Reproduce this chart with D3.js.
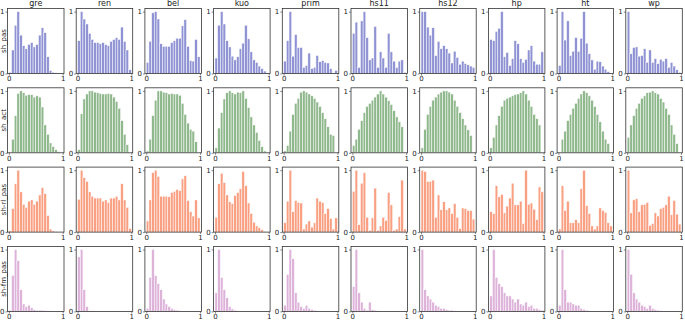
<!DOCTYPE html>
<html>
<head>
<meta charset="utf-8">
<script src="https://cdn.jsdelivr.net/npm/d3@7"></script>
<style>
  body { margin: 0; background: #fff; }
  svg text { font-family: "DejaVu Sans", sans-serif; fill: #222; }
</style>
</head>
<body>
<svg id="chart" width="685" height="322"></svg>
<script>
// columns (datasets) and rows (measures)
const categories = ['gre', 'ren', 'bel', 'kuo', 'prim', 'hs11', 'hs12', 'hp', 'ht', 'wp']
const rowLabels = ['sh_pas', 'sh_act', 'sh-rl_pas', 'sh-fm_pas']
const tickLabels = [0, 1]
const binCount = 20

// normalized histogram heights, 20 bins on [0,1], one list per category
const shPas = [
  [0.02, 0.38, 0.78, 1.0, 0.62, 0.45, 0.40, 0.47, 0.50, 0.43, 0.47, 0.62, 0.74, 0.66, 0.27, 0.05, 0.02, 0.01, 0, 0],
  [0.53, 1.0, 0.88, 0.80, 0.65, 0.55, 0.50, 0.50, 0.48, 0.50, 0.47, 0.45, 0.52, 0.55, 0.58, 0.55, 0.75, 0.52, 0.38, 0.06],
  [0.18, 0.52, 0.98, 1.0, 0.88, 0.48, 0.44, 0.44, 0.44, 0.50, 0.53, 0.57, 0.57, 0.77, 0.87, 0.44, 0.21, 0.20, 0.55, 0.27],
  [0.25, 0.78, 1.0, 0.80, 0.53, 0.43, 0.28, 0.22, 0.27, 0.40, 0.49, 0.78, 0.56, 0.35, 0.22, 0.18, 0.12, 0.08, 0.04, 0.01],
  [0.20, 0.53, 1.0, 0.28, 0.63, 0.42, 0.42, 0.10, 0.13, 0.33, 0.08, 0.10, 0.29, 0.19, 0.21, 0.18, 0.17, 0.08, 0.01, 0.05],
  [0.65, 0.83, 0.10, 0.85, 1.0, 0.58, 0.22, 0.25, 0.76, 0.10, 0.35, 0.25, 0.10, 0.65, 0.35, 0.20, 0.10, 0.20, 0.22, 0.02],
  [1.0, 1.0, 0.75, 0.62, 0.74, 0.29, 0.52, 0.40, 0.45, 0.40, 0.33, 0.17, 0.36, 0.26, 0.15, 0.20, 0.16, 0.14, 0.12, 0.10],
  [0.55, 0.53, 0.68, 0.73, 1.0, 0.27, 0.34, 0.13, 0.24, 0.53, 0.48, 0.24, 0.18, 0.23, 0.38, 0.45, 0.20, 0.15, 0.15, 0.35],
  [0.13, 1.0, 0.54, 0.85, 0.29, 0.36, 0.58, 0.36, 0.57, 1.0, 0.49, 0.32, 0.22, 0.07, 0.20, 0.19, 0.12, 0.07, 0.03, 0],
  [1.0, 0.32, 0.42, 0.43, 0.28, 0.29, 0.40, 0.18, 0.38, 0.18, 0.24, 0.16, 0.23, 0.20, 0.24, 0.10, 0.18, 0.12, 0.06, 0.02]
]
const shAct = [
  [0, 0.22, 0.60, 0.96, 1.0, 0.97, 0.93, 0.94, 0.94, 0.90, 0.92, 0.90, 0.74, 0.45, 0.30, 0.16, 0.10, 0.05, 0.02, 0],
  [0.05, 0.63, 0.87, 0.95, 1.0, 1.0, 0.98, 0.97, 0.96, 0.95, 0.95, 0.96, 0.95, 0.90, 0.83, 0.72, 0.52, 0.30, 0.13, 0],
  [0.03, 0.22, 0.60, 0.85, 1.0, 1.0, 0.98, 0.97, 0.95, 0.96, 0.95, 0.95, 0.93, 0.80, 0.62, 0.48, 0.38, 0.35, 0.18, 0],
  [0.08, 0.40, 0.65, 0.87, 0.97, 1.0, 0.97, 0.95, 0.98, 0.97, 1.0, 0.88, 0.73, 0.58, 0.45, 0.33, 0.20, 0.10, 0.03, 0],
  [0.03, 0.12, 0.35, 0.62, 0.80, 0.88, 0.98, 1.0, 0.98, 0.95, 0.92, 0.88, 0.82, 0.75, 0.65, 0.55, 0.42, 0.30, 0.28, 0],
  [0.12, 0.22, 0.38, 0.52, 0.65, 0.75, 0.80, 0.85, 0.90, 0.95, 1.0, 0.95, 0.90, 0.84, 0.78, 0.68, 0.58, 0.50, 0.42, 0],
  [0.08, 0.38, 0.62, 0.75, 0.85, 0.90, 0.95, 0.98, 1.0, 1.0, 0.98, 0.95, 0.85, 0.75, 0.65, 0.55, 0.45, 0.37, 0.28, 0],
  [0.08, 0.25, 0.45, 0.60, 0.75, 0.85, 0.88, 0.90, 0.92, 0.94, 0.95, 0.97, 1.0, 0.95, 0.85, 0.75, 0.62, 0.55, 0.45, 0],
  [0, 0.22, 0.35, 0.52, 0.62, 0.72, 0.80, 0.88, 0.95, 1.0, 0.97, 0.92, 0.85, 0.75, 0.62, 0.50, 0.35, 0.22, 0.15, 0],
  [0.25, 0.45, 0.60, 0.72, 0.80, 0.88, 0.92, 0.97, 0.98, 1.0, 0.97, 0.95, 0.88, 0.82, 0.72, 0.62, 0.45, 0.30, 0.15, 0]
]
const shRlPas = [
  [0.02, 0.38, 0.78, 1.0, 0.65, 0.45, 0.40, 0.50, 0.52, 0.45, 0.50, 0.60, 0.72, 0.62, 0.27, 0.05, 0.02, 0.01, 0, 0],
  [0.53, 1.0, 0.88, 0.82, 0.65, 0.58, 0.55, 0.55, 0.55, 0.50, 0.52, 0.48, 0.55, 0.55, 0.58, 0.52, 0.78, 0.52, 0.40, 0.06],
  [0.18, 0.52, 0.96, 1.0, 0.90, 0.58, 0.58, 0.58, 0.57, 0.64, 0.66, 0.69, 0.67, 0.86, 0.91, 0.51, 0.33, 0.26, 0.52, 0.23],
  [0.24, 0.78, 0.95, 0.80, 0.60, 0.49, 0.46, 0.59, 0.64, 0.70, 0.98, 0.75, 0.47, 0.30, 0.16, 0.10, 0.07, 0.04, 0.01, 0],
  [0.15, 0.50, 1.0, 0.33, 0.51, 0.48, 0.47, 0.05, 0.13, 0.18, 0.08, 0.15, 0.55, 0.50, 0.48, 0.30, 0.38, 0.22, 0.05, 0.23],
  [0.66, 1.0, 0.12, 0.79, 0.96, 0.24, 0.03, 0.23, 0.71, 0.03, 0.10, 0.24, 0.19, 0.64, 0.44, 0.03, 0.05, 0.25, 0.84, 0.05],
  [1.0, 0.98, 0.82, 0.82, 0.84, 0.24, 0.60, 0.36, 0.49, 0.36, 0.39, 0.30, 0.46, 0.24, 0.06, 0.39, 0.38, 0.35, 0.35, 0.21],
  [0.33, 0.30, 0.75, 0.57, 0.61, 0.31, 0.42, 0.55, 0.79, 0.44, 0.44, 0.50, 0.14, 1.0, 0.45, 0.47, 0.37, 0.20, 0.73, 0.65],
  [0.05, 0.75, 0.35, 0.50, 0.15, 0.15, 0.20, 0.15, 0.70, 1.0, 0.43, 0.30, 0.10, 0.05, 0.10, 0.39, 0.35, 0.32, 0.15, 0.10],
  [1.0, 0.31, 0.52, 0.54, 0.33, 0.44, 0.45, 0.48, 0.11, 0.14, 0.31, 0.26, 0.38, 0.40, 0.44, 0.58, 0.28, 0.51, 0.29, 0.13]
]
const shFmPas = [
  [0.02, 0.58, 1.0, 0.82, 0.35, 0.12, 0.08, 0.10, 0.06, 0.03, 0.02, 0.02, 0.02, 0.01, 0.01, 0, 0, 0, 0, 0],
  [0.88, 1.0, 0.35, 0.08, 0.01, 0.01, 0, 0, 0, 0, 0, 0, 0, 0, 0, 0, 0, 0, 0, 0],
  [0.05, 0.55, 1.0, 0.58, 0.45, 0.35, 0.20, 0.12, 0.08, 0.05, 0.03, 0.02, 0.01, 0, 0, 0, 0, 0, 0, 0],
  [0.30, 1.0, 0.55, 0.35, 0.22, 0.08, 0.04, 0.02, 0.01, 0, 0, 0, 0, 0, 0, 0, 0, 0, 0, 0],
  [0.10, 0.60, 1.0, 0.85, 0.30, 0.15, 0.08, 0.05, 0.10, 0.05, 0.03, 0.02, 0.01, 0, 0, 0, 0, 0, 0, 0],
  [0.40, 1.0, 0.30, 0.15, 0.05, 0.02, 0.15, 0.03, 0.02, 0.01, 0, 0, 0, 0, 0, 0, 0, 0, 0, 0],
  [1.0, 0.35, 0.25, 0.20, 0.15, 0.10, 0.08, 0.05, 0.05, 0.03, 0.02, 0.02, 0.01, 0, 0, 0, 0, 0, 0, 0],
  [0.25, 1.0, 0.55, 0.45, 0.40, 0.30, 0.25, 0.25, 0.20, 0.15, 0.20, 0.12, 0.10, 0.15, 0.08, 0.10, 0.05, 0.05, 0.03, 0.02],
  [0.10, 1.0, 0.35, 0.15, 0.15, 0.12, 0.10, 0.10, 0.05, 0.03, 0.02, 0.01, 0, 0, 0, 0, 0, 0, 0, 0],
  [1.0, 0.60, 0.30, 0.20, 0.15, 0.10, 0.08, 0.05, 0.10, 0.05, 0.03, 0.02, 0.01, 0, 0, 0, 0, 0, 0, 0]
]
const rows = [shPas, shAct, shRlPas, shFmPas]
const rowColors = ['#8f93d3', '#90b88d', '#f9a083', '#ddb3da']

const svg = d3.select('#chart')
const left0 = 7.5, colStep = 68.7, pw = 56.5
const top0 = 8.5, rowStep = 79.3, ph = 65

const x = d3.scaleLinear().domain([-0.025, 1.025]).range([0, pw])
const y = d3.scaleLinear().domain([0, 1.05]).range([ph, 0])
const bw = 1 / binCount

rows.forEach((rowData, r) => {
  rowData.forEach((vals, c) => {
    let g = svg.append('g')
      .attr('transform', `translate(${left0 + c * colStep},${top0 + r * rowStep})`)

    g.selectAll('rect.bar')
      .data(vals)
      .join('rect')
      .attr('class', 'bar')
      .attr('x', (d, i) => x(i * bw))
      .attr('width', x(bw) - x(0))
      .attr('y', d => y(d))
      .attr('height', d => ph - y(d))
      .attr('fill', rowColors[r])
      .attr('stroke', '#fff')
      .attr('stroke-width', 0.5)

    let xa = g.append('g')
      .attr('transform', `translate(0,${ph})`)
      .call(d3.axisBottom(x).tickValues(tickLabels).tickSize(2).tickPadding(1).tickFormat(d3.format('d')))
    let ya = g.append('g')
      .call(d3.axisLeft(y).tickValues(tickLabels).tickSize(2).tickPadding(1).tickFormat(d3.format('d')))
    ;[xa, ya].forEach(a => {
      a.select('.domain').remove()
      a.selectAll('line').attr('stroke', '#333').attr('stroke-width', 0.6)
      a.selectAll('text').attr('font-size', 7).attr('fill', '#222')
    })

    g.append('rect')
      .attr('width', pw).attr('height', ph)
      .attr('fill', 'none').attr('stroke', '#333').attr('stroke-width', 0.8)

    if (r === 0) {
      g.append('text')
        .attr('x', pw / 2).attr('y', -3)
        .attr('text-anchor', 'middle')
        .attr('font-size', 8)
        .text(categories[c])
    }
    if (c === 0) {
      g.append('text')
        .attr('transform', `translate(-1.5,${ph / 2}) rotate(-90)`)
        .attr('text-anchor', 'middle')
        .attr('font-size', 7)
        .text(rowLabels[r])
    }
  })
})
</script>
</body>
</html>
